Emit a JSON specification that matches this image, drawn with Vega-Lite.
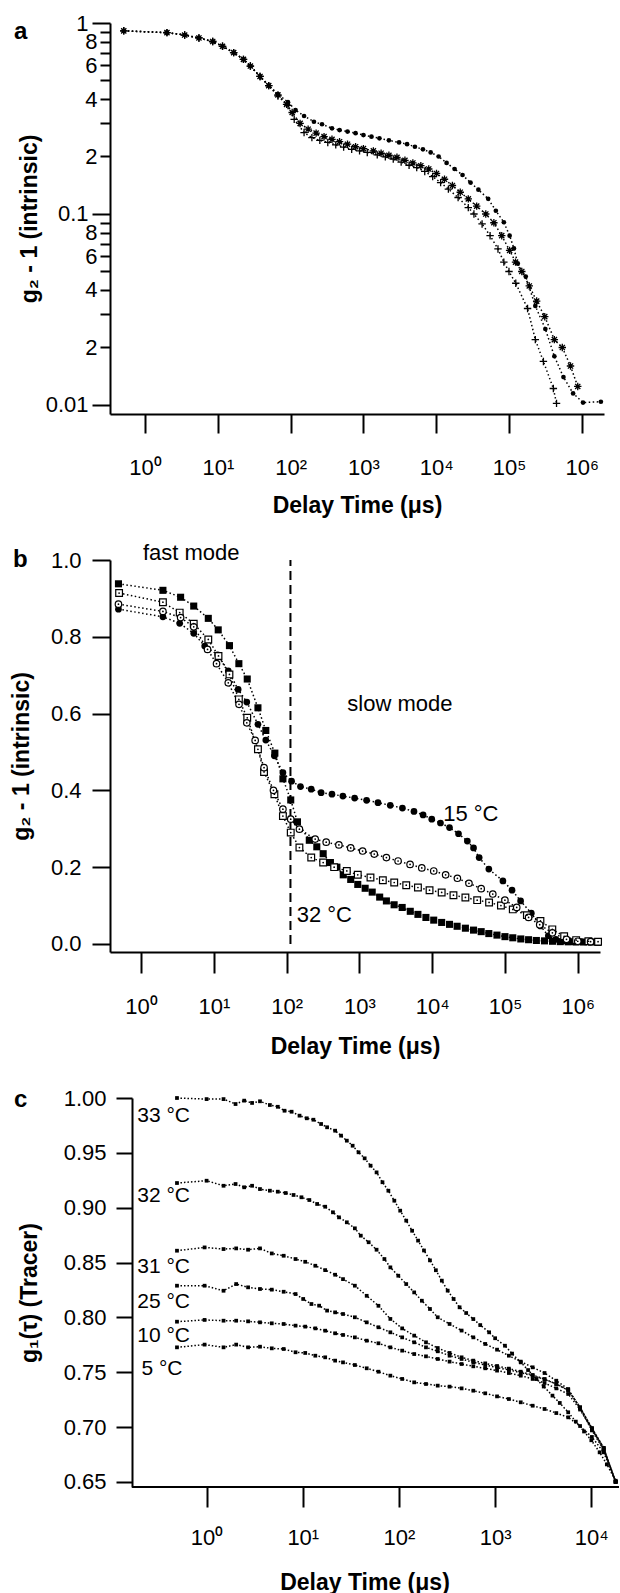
{
"$schema":"https://vega.github.io/schema/vega-lite/v6.json",
"background":"white",
"padding":{"left":10,"top":12,"right":0,"bottom":0},
"autosize":{"type":"pad"},
"spacing":146,
"bounds":"flush",
"config":{
 "view":{"stroke":null},
 "font":"Liberation Sans",
 "axis":{"domainColor":"#000","domainWidth":2,"tickColor":"#000","tickWidth":2,"labelColor":"#000","labelFont":"Liberation Sans","labelFontSize":22,"titleFont":"Liberation Sans","titleFontSize":23,"titleFontWeight":"bold","titleColor":"#000","grid":false,"labelOverlap":false,"labelFlush":false,"labelBound":false},
 "title":{"font":"Liberation Sans","fontSize":24,"fontWeight":"bold","color":"#000","anchor":"start","frame":"group"}
},
"datasets":{
"a":[
{"t":0.51,"g":0.91,"s":"dot"},{"t":2.0,"g":0.89,"s":"dot"},{"t":3.5,"g":0.865,"s":"dot"},{"t":5.5,"g":0.835,"s":"dot"},{"t":8.5,"g":0.8,"s":"dot"},{"t":11.6,"g":0.755,"s":"dot"},{"t":16.5,"g":0.7,"s":"dot"},{"t":22.5,"g":0.645,"s":"dot"},{"t":28,"g":0.595,"s":"dot"},{"t":38,"g":0.525,"s":"dot"},{"t":50,"g":0.47,"s":"dot"},{"t":67,"g":0.425,"s":"dot"},{"t":92,"g":0.385,"s":"dot"},{"t":117,"g":0.35,"s":"dot"},{"t":153,"g":0.326,"s":"dot"},{"t":209,"g":0.304,"s":"dot"},{"t":270,"g":0.295,"s":"dot"},{"t":370,"g":0.281,"s":"dot"},{"t":470,"g":0.275,"s":"dot"},{"t":605,"g":0.27,"s":"dot"},{"t":780,"g":0.265,"s":"dot"},{"t":1000,"g":0.259,"s":"dot"},{"t":1290,"g":0.254,"s":"dot"},{"t":1660,"g":0.249,"s":"dot"},{"t":2240,"g":0.243,"s":"dot"},{"t":3090,"g":0.237,"s":"dot"},{"t":3980,"g":0.232,"s":"dot"},{"t":5100,"g":0.225,"s":"dot"},{"t":6570,"g":0.218,"s":"dot"},{"t":8400,"g":0.21,"s":"dot"},{"t":10800,"g":0.2,"s":"dot"},{"t":13900,"g":0.185,"s":"dot"},{"t":17900,"g":0.172,"s":"dot"},{"t":23000,"g":0.16,"s":"dot"},{"t":29600,"g":0.146,"s":"dot"},{"t":38000,"g":0.134,"s":"dot"},{"t":51800,"g":0.12,"s":"dot"},{"t":66000,"g":0.104,"s":"dot"},{"t":85000,"g":0.0905,"s":"dot"},{"t":102000,"g":0.077,"s":"dot"},{"t":117000,"g":0.066,"s":"dot"},{"t":132000,"g":0.055,"s":"dot"},{"t":170000,"g":0.047,"s":"dot"},{"t":230000,"g":0.033,"s":"dot"},{"t":316000,"g":0.025,"s":"dot"},{"t":420000,"g":0.018,"s":"dot"},{"t":560000,"g":0.014,"s":"dot"},{"t":760000,"g":0.0115,"s":"dot"},{"t":1040000,"g":0.0103,"s":"dot"},{"t":1830000,"g":0.0104,"s":"dot"},
{"t":0.51,"g":0.91,"s":"ast"},{"t":2.0,"g":0.89,"s":"ast"},{"t":3.5,"g":0.865,"s":"ast"},{"t":5.5,"g":0.835,"s":"ast"},{"t":8.5,"g":0.8,"s":"ast"},{"t":11.6,"g":0.755,"s":"ast"},{"t":16.5,"g":0.7,"s":"ast"},{"t":22.5,"g":0.645,"s":"ast"},{"t":28,"g":0.595,"s":"ast"},{"t":38,"g":0.525,"s":"ast"},{"t":50,"g":0.47,"s":"ast"},{"t":67,"g":0.42,"s":"ast"},{"t":88,"g":0.375,"s":"ast"},{"t":105,"g":0.34,"s":"ast"},{"t":135,"g":0.298,"s":"ast"},{"t":174,"g":0.278,"s":"ast"},{"t":224,"g":0.265,"s":"ast"},{"t":288,"g":0.254,"s":"ast"},{"t":370,"g":0.246,"s":"ast"},{"t":470,"g":0.239,"s":"ast"},{"t":605,"g":0.232,"s":"ast"},{"t":780,"g":0.225,"s":"ast"},{"t":1000,"g":0.22,"s":"ast"},{"t":1370,"g":0.214,"s":"ast"},{"t":1750,"g":0.208,"s":"ast"},{"t":2240,"g":0.203,"s":"ast"},{"t":2890,"g":0.198,"s":"ast"},{"t":3720,"g":0.191,"s":"ast"},{"t":4780,"g":0.185,"s":"ast"},{"t":6150,"g":0.179,"s":"ast"},{"t":7900,"g":0.172,"s":"ast"},{"t":10100,"g":0.163,"s":"ast"},{"t":13000,"g":0.152,"s":"ast"},{"t":16700,"g":0.141,"s":"ast"},{"t":21400,"g":0.13,"s":"ast"},{"t":27600,"g":0.12,"s":"ast"},{"t":36000,"g":0.11,"s":"ast"},{"t":48000,"g":0.1,"s":"ast"},{"t":62000,"g":0.09,"s":"ast"},{"t":79500,"g":0.077,"s":"ast"},{"t":102000,"g":0.0645,"s":"ast"},{"t":123000,"g":0.056,"s":"ast"},{"t":150000,"g":0.05,"s":"ast"},{"t":190000,"g":0.042,"s":"ast"},{"t":240000,"g":0.035,"s":"ast"},{"t":310000,"g":0.029,"s":"ast"},{"t":420000,"g":0.022,"s":"ast"},{"t":540000,"g":0.02,"s":"ast"},{"t":700000,"g":0.016,"s":"ast"},{"t":880000,"g":0.0125,"s":"ast"},
{"t":0.51,"g":0.91,"s":"plus"},{"t":2.0,"g":0.89,"s":"plus"},{"t":3.5,"g":0.865,"s":"plus"},{"t":5.5,"g":0.835,"s":"plus"},{"t":8.5,"g":0.8,"s":"plus"},{"t":11.6,"g":0.755,"s":"plus"},{"t":16.5,"g":0.7,"s":"plus"},{"t":22.5,"g":0.645,"s":"plus"},{"t":28,"g":0.595,"s":"plus"},{"t":38,"g":0.525,"s":"plus"},{"t":50,"g":0.47,"s":"plus"},{"t":67,"g":0.415,"s":"plus"},{"t":92,"g":0.37,"s":"plus"},{"t":112,"g":0.313,"s":"plus"},{"t":153,"g":0.267,"s":"plus"},{"t":196,"g":0.251,"s":"plus"},{"t":252,"g":0.243,"s":"plus"},{"t":324,"g":0.237,"s":"plus"},{"t":417,"g":0.23,"s":"plus"},{"t":535,"g":0.224,"s":"plus"},{"t":690,"g":0.218,"s":"plus"},{"t":885,"g":0.214,"s":"plus"},{"t":1130,"g":0.21,"s":"plus"},{"t":1550,"g":0.204,"s":"plus"},{"t":2000,"g":0.199,"s":"plus"},{"t":2570,"g":0.194,"s":"plus"},{"t":3300,"g":0.187,"s":"plus"},{"t":4240,"g":0.18,"s":"plus"},{"t":5400,"g":0.175,"s":"plus"},{"t":6960,"g":0.167,"s":"plus"},{"t":8950,"g":0.157,"s":"plus"},{"t":11500,"g":0.146,"s":"plus"},{"t":14700,"g":0.135,"s":"plus"},{"t":20000,"g":0.122,"s":"plus"},{"t":27600,"g":0.108,"s":"plus"},{"t":33000,"g":0.1,"s":"plus"},{"t":42700,"g":0.0887,"s":"plus"},{"t":55000,"g":0.077,"s":"plus"},{"t":70600,"g":0.0656,"s":"plus"},{"t":85000,"g":0.056,"s":"plus"},{"t":100000,"g":0.05,"s":"plus"},{"t":124000,"g":0.0434,"s":"plus"},{"t":180000,"g":0.032,"s":"plus"},{"t":230000,"g":0.022,"s":"plus"},{"t":297000,"g":0.0169,"s":"plus"},{"t":407000,"g":0.0122,"s":"plus"},{"t":450000,"g":0.0102,"s":"plus"}
],
"b":[
{"t":0.49,"g":0.938,"s":"fsq"},{"t":2.0,"g":0.921,"s":"fsq"},{"t":3.5,"g":0.903,"s":"fsq"},{"t":5.3,"g":0.88,"s":"fsq"},{"t":8.4,"g":0.848,"s":"fsq"},{"t":11.5,"g":0.818,"s":"fsq"},{"t":16.4,"g":0.777,"s":"fsq"},{"t":22.1,"g":0.73,"s":"fsq"},{"t":28.8,"g":0.69,"s":"fsq"},{"t":40.4,"g":0.615,"s":"fsq"},{"t":51.8,"g":0.556,"s":"fsq"},{"t":69,"g":0.497,"s":"fsq"},{"t":89,"g":0.43,"s":"fsq"},{"t":114,"g":0.375,"s":"fsq"},{"t":141,"g":0.318,"s":"fsq"},{"t":205,"g":0.27,"s":"fsq"},{"t":260,"g":0.253,"s":"fsq"},{"t":318,"g":0.235,"s":"fsq"},{"t":400,"g":0.212,"s":"fsq"},{"t":491,"g":0.2,"s":"fsq"},{"t":600,"g":0.18,"s":"fsq"},{"t":760,"g":0.168,"s":"fsq"},{"t":950,"g":0.155,"s":"fsq"},{"t":1200,"g":0.145,"s":"fsq"},{"t":1500,"g":0.135,"s":"fsq"},{"t":1900,"g":0.122,"s":"fsq"},{"t":2350,"g":0.112,"s":"fsq"},{"t":3000,"g":0.102,"s":"fsq"},{"t":3870,"g":0.095,"s":"fsq"},{"t":5000,"g":0.085,"s":"fsq"},{"t":6370,"g":0.077,"s":"fsq"},{"t":8200,"g":0.069,"s":"fsq"},{"t":10500,"g":0.062,"s":"fsq"},{"t":13500,"g":0.056,"s":"fsq"},{"t":17300,"g":0.051,"s":"fsq"},{"t":22000,"g":0.046,"s":"fsq"},{"t":28600,"g":0.041,"s":"fsq"},{"t":37000,"g":0.036,"s":"fsq"},{"t":47100,"g":0.032,"s":"fsq"},{"t":60000,"g":0.027,"s":"fsq"},{"t":77600,"g":0.023,"s":"fsq"},{"t":100000,"g":0.019,"s":"fsq"},{"t":128000,"g":0.016,"s":"fsq"},{"t":165000,"g":0.013,"s":"fsq"},{"t":211000,"g":0.011,"s":"fsq"},{"t":270000,"g":0.009,"s":"fsq"},{"t":349000,"g":0.008,"s":"fsq"},{"t":450000,"g":0.007,"s":"fsq"},{"t":575000,"g":0.006,"s":"fsq"},{"t":740000,"g":0.0055,"s":"fsq"},{"t":945000,"g":0.005,"s":"fsq"},{"t":1200000,"g":0.005,"s":"fsq"},{"t":1550000,"g":0.005,"s":"fsq"},{"t":1900000,"g":0.004,"s":"fsq"},
{"t":0.5,"g":0.914,"s":"osq"},{"t":2.0,"g":0.89,"s":"osq"},{"t":3.4,"g":0.863,"s":"osq"},{"t":5.3,"g":0.834,"s":"osq"},{"t":8.4,"g":0.793,"s":"osq"},{"t":11.6,"g":0.75,"s":"osq"},{"t":16.4,"g":0.702,"s":"osq"},{"t":22.1,"g":0.637,"s":"osq"},{"t":28.8,"g":0.589,"s":"osq"},{"t":40.4,"g":0.507,"s":"osq"},{"t":49,"g":0.448,"s":"osq"},{"t":68,"g":0.39,"s":"osq"},{"t":89,"g":0.333,"s":"osq"},{"t":114,"g":0.29,"s":"osq"},{"t":150,"g":0.251,"s":"osq"},{"t":218,"g":0.225,"s":"osq"},{"t":318,"g":0.212,"s":"osq"},{"t":450,"g":0.2,"s":"osq"},{"t":672,"g":0.19,"s":"osq"},{"t":950,"g":0.18,"s":"osq"},{"t":1420,"g":0.173,"s":"osq"},{"t":2100,"g":0.166,"s":"osq"},{"t":3010,"g":0.16,"s":"osq"},{"t":4400,"g":0.153,"s":"osq"},{"t":6370,"g":0.147,"s":"osq"},{"t":9200,"g":0.14,"s":"osq"},{"t":13500,"g":0.134,"s":"osq"},{"t":19600,"g":0.127,"s":"osq"},{"t":28600,"g":0.121,"s":"osq"},{"t":41500,"g":0.114,"s":"osq"},{"t":60500,"g":0.108,"s":"osq"},{"t":88000,"g":0.1,"s":"osq"},{"t":128000,"g":0.09,"s":"osq"},{"t":200000,"g":0.075,"s":"osq"},{"t":307000,"g":0.06,"s":"osq"},{"t":447000,"g":0.038,"s":"osq"},{"t":650000,"g":0.02,"s":"osq"},{"t":950000,"g":0.01,"s":"osq"},{"t":1400000,"g":0.007,"s":"osq"},{"t":1900000,"g":0.006,"s":"osq"},
{"t":0.49,"g":0.885,"s":"ocir"},{"t":2.0,"g":0.866,"s":"ocir"},{"t":3.5,"g":0.85,"s":"ocir"},{"t":5.3,"g":0.826,"s":"ocir"},{"t":8.2,"g":0.767,"s":"ocir"},{"t":10.9,"g":0.73,"s":"ocir"},{"t":15.8,"g":0.68,"s":"ocir"},{"t":22.2,"g":0.624,"s":"ocir"},{"t":28.4,"g":0.576,"s":"ocir"},{"t":37,"g":0.53,"s":"ocir"},{"t":49,"g":0.459,"s":"ocir"},{"t":66,"g":0.4,"s":"ocir"},{"t":89,"g":0.351,"s":"ocir"},{"t":114,"g":0.325,"s":"ocir"},{"t":150,"g":0.299,"s":"ocir"},{"t":247,"g":0.273,"s":"ocir"},{"t":350,"g":0.265,"s":"ocir"},{"t":523,"g":0.258,"s":"ocir"},{"t":760,"g":0.25,"s":"ocir"},{"t":1107,"g":0.242,"s":"ocir"},{"t":1600,"g":0.234,"s":"ocir"},{"t":2350,"g":0.225,"s":"ocir"},{"t":3400,"g":0.216,"s":"ocir"},{"t":4970,"g":0.207,"s":"ocir"},{"t":7200,"g":0.198,"s":"ocir"},{"t":10500,"g":0.19,"s":"ocir"},{"t":15300,"g":0.18,"s":"ocir"},{"t":22200,"g":0.171,"s":"ocir"},{"t":32000,"g":0.158,"s":"ocir"},{"t":47100,"g":0.144,"s":"ocir"},{"t":68000,"g":0.13,"s":"ocir"},{"t":99800,"g":0.114,"s":"ocir"},{"t":145000,"g":0.095,"s":"ocir"},{"t":211000,"g":0.069,"s":"ocir"},{"t":300000,"g":0.05,"s":"ocir"},{"t":448000,"g":0.029,"s":"ocir"},{"t":700000,"g":0.012,"s":"ocir"},{"t":1000000,"g":0.007,"s":"ocir"},{"t":1500000,"g":0.006,"s":"ocir"},
{"t":0.49,"g":0.872,"s":"fcir"},{"t":2.0,"g":0.852,"s":"fcir"},{"t":3.4,"g":0.835,"s":"fcir"},{"t":5.3,"g":0.809,"s":"fcir"},{"t":7.5,"g":0.776,"s":"fcir"},{"t":11.3,"g":0.753,"s":"fcir"},{"t":15.8,"g":0.711,"s":"fcir"},{"t":21.6,"g":0.663,"s":"fcir"},{"t":28.4,"g":0.63,"s":"fcir"},{"t":40.4,"g":0.572,"s":"fcir"},{"t":51.8,"g":0.531,"s":"fcir"},{"t":68,"g":0.49,"s":"fcir"},{"t":89,"g":0.446,"s":"fcir"},{"t":117,"g":0.424,"s":"fcir"},{"t":155,"g":0.41,"s":"fcir"},{"t":218,"g":0.403,"s":"fcir"},{"t":298,"g":0.394,"s":"fcir"},{"t":420,"g":0.39,"s":"fcir"},{"t":593,"g":0.385,"s":"fcir"},{"t":860,"g":0.38,"s":"fcir"},{"t":1256,"g":0.374,"s":"fcir"},{"t":1800,"g":0.368,"s":"fcir"},{"t":2655,"g":0.361,"s":"fcir"},{"t":3900,"g":0.354,"s":"fcir"},{"t":5620,"g":0.345,"s":"fcir"},{"t":7500,"g":0.336,"s":"fcir"},{"t":9870,"g":0.325,"s":"fcir"},{"t":13000,"g":0.315,"s":"fcir"},{"t":17300,"g":0.303,"s":"fcir"},{"t":23000,"g":0.287,"s":"fcir"},{"t":30400,"g":0.268,"s":"fcir"},{"t":37000,"g":0.25,"s":"fcir"},{"t":44200,"g":0.225,"s":"fcir"},{"t":60000,"g":0.195,"s":"fcir"},{"t":93600,"g":0.164,"s":"fcir"},{"t":125000,"g":0.14,"s":"fcir"},{"t":164000,"g":0.112,"s":"fcir"},{"t":230000,"g":0.08,"s":"fcir"},{"t":307000,"g":0.047,"s":"fcir"},{"t":394000,"g":0.021,"s":"fcir"},{"t":500000,"g":0.012,"s":"fcir"},{"t":650000,"g":0.008,"s":"fcir"},{"t":850000,"g":0.006,"s":"fcir"},{"t":1100000,"g":0.006,"s":"fcir"},{"t":1450000,"g":0.005,"s":"fcir"},{"t":1900000,"g":0.006,"s":"fcir"}
],
"bnotes":[
{"t":4.9,"g":1.018,"label":"fast mode"},
{"t":3600,"g":0.625,"label":"slow mode"},
{"t":34000,"g":0.339,"label":"15 °C"},
{"t":330,"g":0.075,"label":"32 °C"}
],
"bline":[{"t":113,"g0":0,"g1":1.0}],
"c":[
{"t":0.492,"g":1.0,"T":"33"},{"t":1.0,"g":0.999,"T":"33"},{"t":1.5,"g":0.999,"T":"33"},{"t":2.0,"g":0.9945,"T":"33"},{"t":2.46,"g":0.9976,"T":"33"},{"t":2.97,"g":0.9955,"T":"33"},{"t":3.59,"g":0.997,"T":"33"},{"t":4.55,"g":0.9936,"T":"33"},{"t":5.5,"g":0.992,"T":"33"},{"t":6.46,"g":0.9884,"T":"33"},{"t":7.65,"g":0.9875,"T":"33"},{"t":9.25,"g":0.9839,"T":"33"},{"t":11.0,"g":0.9815,"T":"33"},{"t":12.9,"g":0.9802,"T":"33"},{"t":15.5,"g":0.9763,"T":"33"},{"t":17.9,"g":0.9733,"T":"33"},{"t":21.7,"g":0.9702,"T":"33"},{"t":25,"g":0.9657,"T":"33"},{"t":28.7,"g":0.9611,"T":"33"},{"t":33,"g":0.9565,"T":"33"},{"t":38,"g":0.9505,"T":"33"},{"t":44,"g":0.945,"T":"33"},{"t":50.7,"g":0.9383,"T":"33"},{"t":58.5,"g":0.9322,"T":"33"},{"t":67.4,"g":0.9232,"T":"33"},{"t":77.6,"g":0.9155,"T":"33"},{"t":89.5,"g":0.9064,"T":"33"},{"t":103,"g":0.8973,"T":"33"},{"t":119,"g":0.8882,"T":"33"},{"t":137,"g":0.879,"T":"33"},{"t":158,"g":0.87,"T":"33"},{"t":182,"g":0.861,"T":"33"},{"t":210,"g":0.852,"T":"33"},{"t":242,"g":0.843,"T":"33"},{"t":279,"g":0.8335,"T":"33"},{"t":321,"g":0.8244,"T":"33"},{"t":370,"g":0.8168,"T":"33"},{"t":427,"g":0.8092,"T":"33"},{"t":500,"g":0.804,"T":"33"},{"t":593,"g":0.7985,"T":"33"},{"t":700,"g":0.793,"T":"33"},{"t":866,"g":0.7864,"T":"33"},{"t":1000,"g":0.781,"T":"33"},{"t":1265,"g":0.7742,"T":"33"},{"t":1500,"g":0.767,"T":"33"},{"t":1847,"g":0.759,"T":"33"},{"t":2200,"g":0.752,"T":"33"},{"t":2693,"g":0.7438,"T":"33"},{"t":3200,"g":0.737,"T":"33"},{"t":3945,"g":0.7287,"T":"33"},{"t":4700,"g":0.722,"T":"33"},{"t":5750,"g":0.7135,"T":"33"},{"t":6900,"g":0.705,"T":"33"},{"t":8400,"g":0.696,"T":"33"},{"t":10000,"g":0.688,"T":"33"},{"t":12200,"g":0.677,"T":"33"},{"t":14500,"g":0.666,"T":"33"},{"t":17900,"g":0.6511,"T":"33"},
{"t":0.492,"g":0.9225,"T":"32"},{"t":1.0,"g":0.9246,"T":"32"},{"t":1.5,"g":0.92,"T":"32"},{"t":2.0,"g":0.9216,"T":"32"},{"t":2.46,"g":0.9186,"T":"32"},{"t":2.97,"g":0.92,"T":"32"},{"t":3.59,"g":0.917,"T":"32"},{"t":4.55,"g":0.9155,"T":"32"},{"t":5.5,"g":0.9146,"T":"32"},{"t":6.64,"g":0.9134,"T":"32"},{"t":8.02,"g":0.9116,"T":"32"},{"t":9.69,"g":0.9095,"T":"32"},{"t":11.7,"g":0.907,"T":"32"},{"t":14.1,"g":0.9034,"T":"32"},{"t":17.1,"g":0.9009,"T":"32"},{"t":20.6,"g":0.8958,"T":"32"},{"t":23.8,"g":0.8912,"T":"32"},{"t":28.7,"g":0.8867,"T":"32"},{"t":34.8,"g":0.8812,"T":"32"},{"t":40.1,"g":0.8745,"T":"32"},{"t":48.4,"g":0.8685,"T":"32"},{"t":58.5,"g":0.8617,"T":"32"},{"t":70.6,"g":0.8532,"T":"32"},{"t":81.4,"g":0.8456,"T":"32"},{"t":98.4,"g":0.838,"T":"32"},{"t":119,"g":0.8304,"T":"32"},{"t":144,"g":0.8228,"T":"32"},{"t":173,"g":0.8152,"T":"32"},{"t":210,"g":0.8077,"T":"32"},{"t":253,"g":0.8001,"T":"32"},{"t":336,"g":0.794,"T":"32"},{"t":448,"g":0.788,"T":"32"},{"t":593,"g":0.7818,"T":"32"},{"t":789,"g":0.7758,"T":"32"},{"t":1047,"g":0.7706,"T":"32"},{"t":1390,"g":0.7651,"T":"32"},{"t":1845,"g":0.7597,"T":"32"},{"t":2455,"g":0.7545,"T":"32"},{"t":3265,"g":0.7493,"T":"32"},{"t":4325,"g":0.7423,"T":"32"},{"t":5750,"g":0.7347,"T":"32"},{"t":7640,"g":0.717,"T":"32"},{"t":10140,"g":0.697,"T":"32"},{"t":13450,"g":0.679,"T":"32"},{"t":17900,"g":0.6502,"T":"32"},
{"t":0.492,"g":0.8608,"T":"31"},{"t":0.953,"g":0.8638,"T":"31"},{"t":1.5,"g":0.8623,"T":"31"},{"t":2.03,"g":0.8629,"T":"31"},{"t":2.7,"g":0.8617,"T":"31"},{"t":3.59,"g":0.8629,"T":"31"},{"t":4.76,"g":0.8583,"T":"31"},{"t":6.33,"g":0.8562,"T":"31"},{"t":8.41,"g":0.8532,"T":"31"},{"t":10.6,"g":0.8507,"T":"31"},{"t":13.5,"g":0.8471,"T":"31"},{"t":17.1,"g":0.8431,"T":"31"},{"t":21.7,"g":0.8389,"T":"31"},{"t":26.2,"g":0.8349,"T":"31"},{"t":34.8,"g":0.8289,"T":"31"},{"t":46.2,"g":0.8197,"T":"31"},{"t":61.2,"g":0.8106,"T":"31"},{"t":81.4,"g":0.7986,"T":"31"},{"t":108,"g":0.79,"T":"31"},{"t":144,"g":0.7834,"T":"31"},{"t":191,"g":0.7773,"T":"31"},{"t":253,"g":0.7721,"T":"31"},{"t":336,"g":0.7676,"T":"31"},{"t":448,"g":0.7636,"T":"31"},{"t":593,"g":0.7606,"T":"31"},{"t":789,"g":0.7581,"T":"31"},{"t":1047,"g":0.7557,"T":"31"},{"t":1390,"g":0.7533,"T":"31"},{"t":1845,"g":0.7505,"T":"31"},{"t":2455,"g":0.7475,"T":"31"},{"t":3265,"g":0.7438,"T":"31"},{"t":4325,"g":0.7393,"T":"31"},{"t":5750,"g":0.7335,"T":"31"},{"t":7640,"g":0.718,"T":"31"},{"t":10140,"g":0.699,"T":"31"},{"t":13450,"g":0.681,"T":"31"},{"t":17900,"g":0.6502,"T":"31"},
{"t":0.492,"g":0.8289,"T":"25"},{"t":0.953,"g":0.8289,"T":"25"},{"t":1.5,"g":0.8243,"T":"25"},{"t":2.03,"g":0.8304,"T":"25"},{"t":2.7,"g":0.8274,"T":"25"},{"t":3.59,"g":0.8259,"T":"25"},{"t":4.76,"g":0.8253,"T":"25"},{"t":6.33,"g":0.8234,"T":"25"},{"t":8.41,"g":0.8213,"T":"25"},{"t":10.1,"g":0.8168,"T":"25"},{"t":12.3,"g":0.8122,"T":"25"},{"t":14.8,"g":0.8107,"T":"25"},{"t":17.9,"g":0.8062,"T":"25"},{"t":21.7,"g":0.8046,"T":"25"},{"t":26.2,"g":0.8031,"T":"25"},{"t":34.8,"g":0.8001,"T":"25"},{"t":46.2,"g":0.7955,"T":"25"},{"t":61.2,"g":0.791,"T":"25"},{"t":81.4,"g":0.7864,"T":"25"},{"t":108,"g":0.7818,"T":"25"},{"t":144,"g":0.7773,"T":"25"},{"t":191,"g":0.7727,"T":"25"},{"t":253,"g":0.7691,"T":"25"},{"t":336,"g":0.7651,"T":"25"},{"t":448,"g":0.7621,"T":"25"},{"t":593,"g":0.759,"T":"25"},{"t":789,"g":0.7566,"T":"25"},{"t":1047,"g":0.7542,"T":"25"},{"t":1390,"g":0.7521,"T":"25"},{"t":1845,"g":0.7496,"T":"25"},{"t":2455,"g":0.7469,"T":"25"},{"t":3265,"g":0.7435,"T":"25"},{"t":4325,"g":0.7393,"T":"25"},{"t":5750,"g":0.7338,"T":"25"},{"t":7640,"g":0.718,"T":"25"},{"t":10140,"g":0.699,"T":"25"},{"t":13450,"g":0.681,"T":"25"},{"t":17900,"g":0.6502,"T":"25"},
{"t":0.492,"g":0.7961,"T":"10"},{"t":0.953,"g":0.7977,"T":"10"},{"t":1.5,"g":0.797,"T":"10"},{"t":2.03,"g":0.797,"T":"10"},{"t":2.7,"g":0.7964,"T":"10"},{"t":3.59,"g":0.7955,"T":"10"},{"t":4.76,"g":0.7946,"T":"10"},{"t":6.33,"g":0.794,"T":"10"},{"t":8.41,"g":0.7925,"T":"10"},{"t":10.6,"g":0.7916,"T":"10"},{"t":13.5,"g":0.79,"T":"10"},{"t":17.1,"g":0.7879,"T":"10"},{"t":21.7,"g":0.7855,"T":"10"},{"t":26.2,"g":0.784,"T":"10"},{"t":34.8,"g":0.7818,"T":"10"},{"t":46.2,"g":0.7788,"T":"10"},{"t":61.2,"g":0.7764,"T":"10"},{"t":81.4,"g":0.7727,"T":"10"},{"t":108,"g":0.7697,"T":"10"},{"t":144,"g":0.7666,"T":"10"},{"t":191,"g":0.7645,"T":"10"},{"t":253,"g":0.7621,"T":"10"},{"t":336,"g":0.7597,"T":"10"},{"t":448,"g":0.7575,"T":"10"},{"t":593,"g":0.7554,"T":"10"},{"t":789,"g":0.7536,"T":"10"},{"t":1047,"g":0.7515,"T":"10"},{"t":1390,"g":0.7493,"T":"10"},{"t":1845,"g":0.7469,"T":"10"},{"t":2455,"g":0.7439,"T":"10"},{"t":3265,"g":0.7402,"T":"10"},{"t":4325,"g":0.7353,"T":"10"},{"t":5750,"g":0.7302,"T":"10"},{"t":7640,"g":0.716,"T":"10"},{"t":10140,"g":0.698,"T":"10"},{"t":13450,"g":0.68,"T":"10"},{"t":17900,"g":0.6502,"T":"10"},
{"t":0.492,"g":0.7727,"T":"5"},{"t":0.953,"g":0.7752,"T":"5"},{"t":1.5,"g":0.7727,"T":"5"},{"t":2.03,"g":0.7752,"T":"5"},{"t":2.7,"g":0.7727,"T":"5"},{"t":3.59,"g":0.7733,"T":"5"},{"t":4.76,"g":0.7718,"T":"5"},{"t":6.33,"g":0.7712,"T":"5"},{"t":8.41,"g":0.7682,"T":"5"},{"t":10.6,"g":0.7676,"T":"5"},{"t":13.5,"g":0.7651,"T":"5"},{"t":17.1,"g":0.7636,"T":"5"},{"t":21.7,"g":0.7606,"T":"5"},{"t":26.2,"g":0.759,"T":"5"},{"t":34.8,"g":0.7566,"T":"5"},{"t":46.2,"g":0.7536,"T":"5"},{"t":61.2,"g":0.7505,"T":"5"},{"t":81.4,"g":0.7469,"T":"5"},{"t":108,"g":0.7439,"T":"5"},{"t":144,"g":0.7408,"T":"5"},{"t":191,"g":0.7393,"T":"5"},{"t":253,"g":0.7378,"T":"5"},{"t":336,"g":0.7369,"T":"5"},{"t":448,"g":0.7353,"T":"5"},{"t":593,"g":0.7332,"T":"5"},{"t":789,"g":0.7308,"T":"5"},{"t":1047,"g":0.728,"T":"5"},{"t":1390,"g":0.7256,"T":"5"},{"t":1845,"g":0.7226,"T":"5"},{"t":2455,"g":0.7195,"T":"5"},{"t":3265,"g":0.7165,"T":"5"},{"t":4325,"g":0.7128,"T":"5"},{"t":5750,"g":0.7089,"T":"5"},{"t":7640,"g":0.701,"T":"5"},{"t":10140,"g":0.691,"T":"5"},{"t":13450,"g":0.677,"T":"5"},{"t":17900,"g":0.6502,"T":"5"}
],
"cnotes":[
{"t":0.19,"g":0.984,"label":"33 °C"},
{"t":0.19,"g":0.911,"label":"32 °C"},
{"t":0.19,"g":0.846,"label":"31 °C"},
{"t":0.19,"g":0.814,"label":"25 °C"},
{"t":0.19,"g":0.783,"label":"10 °C"},
{"t":0.21,"g":0.753,"label":"5 °C"}
],
"cbase":[{"t0":0.168,"t1":19400,"g":0.6454}]
},
"vconcat":[
{
 "width":494,"height":391,
 "title":{"text":"a","dx":-96,"dy":36},
 "data":{"name":"a"},
 "encoding":{
  "x":{"field":"t","type":"quantitative","scale":{"type":"log","domain":[0.33,2020000],"nice":false},
   "axis":{"title":"Delay Time (μs)","titleY":91,"titleBaseline":"middle","values":[1,10,100,1000,10000,100000,1000000],"labelExpr":"'10' + ['⁰','¹','²','³','⁴','⁵','⁶'][round(log(datum.value)/LN10)]","tickSize":19,"labelPadding":24}},
  "y":{"field":"g","type":"quantitative","scale":{"type":"log","domain":[0.00897,1],"nice":false},
   "axis":{"title":"g₂ - 1  (intrinsic)","titleX":-81,"titleBaseline":"middle",
    "values":[0.01,0.02,0.03,0.04,0.05,0.06,0.07,0.08,0.09,0.1,0.2,0.3,0.4,0.5,0.6,0.7,0.8,0.9,1],
    "labelExpr":"datum.value==1?'1':datum.value==0.1?'0.1':datum.value==0.01?'0.01':(round(datum.value/(datum.value<0.1?0.01:0.1))%2==0?''+round(datum.value/(datum.value<0.1?0.01:0.1)):'')",
    "tickSize":{"condition":{"test":"datum.value==1||datum.value==0.1||datum.value==0.01","value":18},"value":10},
    "labelPadding":{"condition":{"test":"datum.value==1||datum.value==0.1||datum.value==0.01","value":4},"value":3}}}
 },
 "layer":[
  {"mark":{"type":"line","strokeDash":[1.5,2.5],"strokeWidth":1.5,"color":"#000"},"encoding":{"detail":{"field":"s"}}},
  {"transform":[{"filter":"datum.s=='dot'"}],"mark":{"type":"point","shape":"circle","filled":true,"size":22,"color":"#000","opacity":1}},
  {"transform":[{"filter":"datum.s=='ast'"}],"mark":{"type":"point","shape":"M-1,0L1,0M0,-1L0,1M-0.7,-0.7L0.7,0.7M-0.7,0.7L0.7,-0.7","filled":false,"size":55,"strokeWidth":1.3,"color":"#000","opacity":1}},
  {"transform":[{"filter":"datum.s=='plus'"}],"mark":{"type":"point","shape":"M-1,0L1,0M0,-1L0,1","filled":false,"size":55,"strokeWidth":1.3,"color":"#000","opacity":1}}
 ]
},
{
 "width":490,"height":392,
 "title":{"text":"b","dx":-97,"dy":34},
 "encoding":{
  "x":{"field":"t","type":"quantitative","scale":{"type":"log","domain":[0.375,2020000],"nice":false},
   "axis":{"title":"Delay Time (μs)","titleY":94,"titleBaseline":"middle","values":[1,10,100,1000,10000,100000,1000000],"labelExpr":"'10' + ['⁰','¹','²','³','⁴','⁵','⁶'][round(log(datum.value)/LN10)]","tickSize":21,"labelPadding":23}},
  "y":{"field":"g","type":"quantitative","scale":{"domain":[-0.021,1.0],"nice":false,"zero":false},
   "axis":{"title":"g₂ - 1  (intrinsic)","titleX":-89,"titleBaseline":"middle","values":[0,0.2,0.4,0.6,0.8,1.0],"format":".1f","tickSize":18,"labelPadding":11}}
 },
 "layer":[
  {"data":{"name":"bline"},"mark":{"type":"rule","strokeDash":[9,5],"strokeWidth":2,"color":"#000"},"encoding":{"y":{"field":"g0","type":"quantitative"},"y2":{"field":"g1"}}},
  {"data":{"name":"b"},"mark":{"type":"line","strokeDash":[1.5,2.5],"strokeWidth":1.5,"color":"#000"},"encoding":{"detail":{"field":"s"}}},
  {"data":{"name":"b"},"transform":[{"filter":"datum.s=='fsq'"}],"mark":{"type":"point","shape":"square","filled":true,"size":50,"color":"#000","opacity":1}},
  {"data":{"name":"b"},"transform":[{"filter":"datum.s=='fcir'"}],"mark":{"type":"point","shape":"circle","filled":true,"size":45,"color":"#000","opacity":1}},
  {"data":{"name":"b"},"transform":[{"filter":"datum.s=='osq'"}],"mark":{"type":"point","shape":"square","filled":false,"fill":"white","size":45,"strokeWidth":1.2,"color":"#000","opacity":1}},
  {"data":{"name":"b"},"transform":[{"filter":"datum.s=='ocir'"}],"mark":{"type":"point","shape":"circle","filled":false,"fill":"white","size":42,"strokeWidth":1.2,"color":"#000","opacity":1}},
  {"data":{"name":"b"},"transform":[{"filter":"datum.s=='osq'||datum.s=='ocir'"}],"mark":{"type":"point","shape":"circle","filled":true,"size":3,"color":"#000","opacity":1}},
  {"data":{"name":"bnotes"},"mark":{"type":"text","font":"Liberation Sans","fontSize":22,"color":"#000","align":"center","baseline":"middle"},"encoding":{"text":{"field":"label"}}}
 ]
},
{
 "width":509,"height":389,
 "title":{"text":"c","dx":-96,"dy":29},
 "encoding":{
  "x":{"field":"t","type":"quantitative","scale":{"type":"log","domain":[0.099,19400],"nice":false},
   "axis":{"title":"Delay Time (μs)","titleY":95,"titleBaseline":"middle","domain":false,"values":[1,10,100,1000,10000],"labelExpr":"'10' + ['⁰','¹','²','³','⁴','⁵','⁶'][round(log(datum.value)/LN10)]","tickSize":20,"labelPadding":20}},
  "y":{"field":"g","type":"quantitative","scale":{"domain":[0.6454,1.0],"nice":false,"zero":false},
   "axis":{"title":"g₁(τ)  (Tracer)","titleX":-103,"titleBaseline":"middle","offset":-22,"values":[0.65,0.7,0.75,0.8,0.85,0.9,0.95,1.0],"format":".2f","tickSize":16,"labelPadding":10}}
 },
 "layer":[
  {"data":{"name":"cbase"},"mark":{"type":"rule","strokeWidth":2,"color":"#000"},"encoding":{"x":{"field":"t0","type":"quantitative"},"x2":{"field":"t1"}}},
  {"data":{"name":"c"},"mark":{"type":"line","strokeDash":[1.5,2],"strokeWidth":1.5,"color":"#000"},"encoding":{"detail":{"field":"T"}}},
  {"data":{"name":"c"},"mark":{"type":"point","shape":"square","filled":true,"size":14,"color":"#000","opacity":1}},
  {"data":{"name":"cnotes"},"mark":{"type":"text","font":"Liberation Sans","fontSize":21,"color":"#000","align":"left","baseline":"middle"},"encoding":{"text":{"field":"label"}}}
 ]
}
]
}
